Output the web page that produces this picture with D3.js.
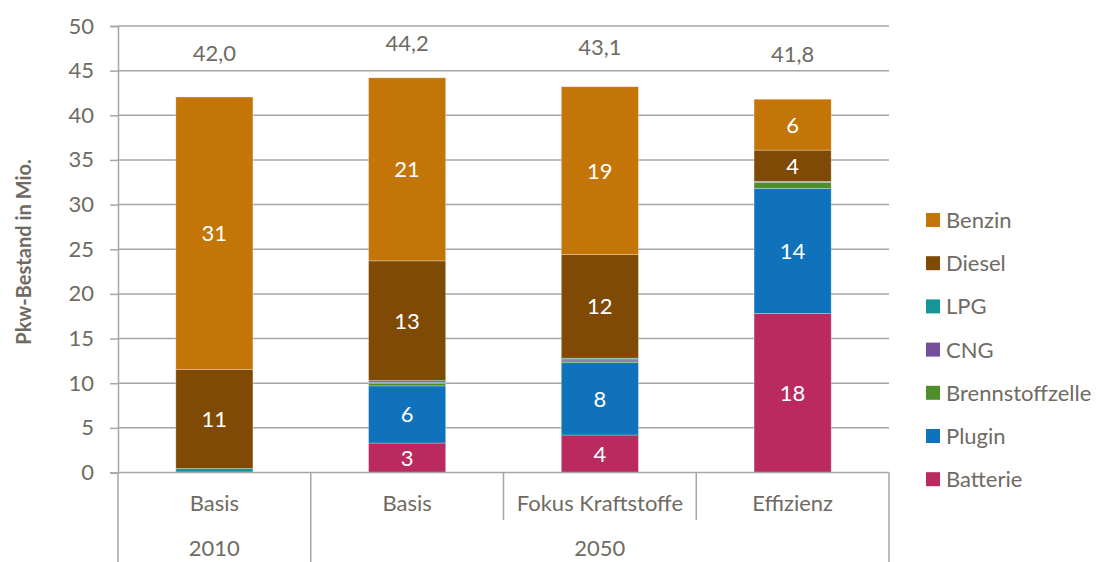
<!DOCTYPE html>
<html><head><meta charset="utf-8">
<script src="https://cdn.jsdelivr.net/npm/d3@7"></script>
<style>
html,body{margin:0;padding:0;background:#fff;}
svg text{font-family:Lato,"Open Sans",sans-serif;}
</style></head>
<body>
<svg id="chart" width="1097" height="562"></svg>
<script>
// ---- data ----
const categories = ["Basis", "Basis", "Fokus Kraftstoffe", "Effizienz"];
const groups = ["2010", "2050", "2050", "2050"];
const seriesNames = ["Batterie", "Plugin", "Brennstoffzelle", "CNG", "LPG", "Diesel", "Benzin"];
const batterie = [0, 3.3, 4.2, 17.8];
const plugin = [0, 6.4, 8.1, 14.0];
const brennstoffzelle = [0, 0.3, 0.2, 0.7];
const cng = [0.05, 0.1, 0.2, 0.05];
const lpg = [0.4, 0.2, 0.1, 0.05];
const diesel = [11.1, 13.4, 11.6, 3.5];
const benzin = [30.5, 20.5, 18.8, 5.7];
const totals = [42.0, 44.2, 43.1, 41.8];
const yTicks = [0, 5, 10, 15, 20, 25, 30, 35, 40, 45, 50];
const colors = ["#BA2A5F", "#1072BA", "#4E8E2B", "#744E9A", "#13969A", "#7F4A06", "#C47508"];
// label heights for the totals (in axis units)
const totalLabelPos = [47.0, 48.1, 47.6, 46.9];

(function () {
const seriesValues = [batterie, plugin, brennstoffzelle, cng, lpg, diesel, benzin];
const rows = categories.map((c, i) => {
  const r = {idx: i};
  seriesNames.forEach((s, k) => r[s] = seriesValues[k][i]);
  return r;
});

const svg = d3.select("#chart");
const mLeft = 118, mRight = 889, mTop = 26, mBottom = 472.5;
const textCol = "#6F6B62", gridCol = "#A6A6A6";
const fs = "22px";

const y = d3.scaleLinear().domain([0, 50]).range([mBottom, mTop]);
const x = d3.scaleBand().domain(d3.range(categories.length)).range([mLeft, mRight])
  .paddingInner(0.6).paddingOuter(0.3);
const xOuter = d3.scaleBand().domain(d3.range(categories.length)).range([mLeft, mRight]);

// gridlines
svg.append("g").selectAll("line").data(yTicks.filter(t => t > 0)).join("line")
  .attr("x1", mLeft).attr("x2", mRight)
  .attr("y1", d => y(d)).attr("y2", d => y(d))
  .attr("stroke", gridCol).attr("stroke-width", 1.5);

// y axis
const yAxis = svg.append("g").attr("transform", `translate(${mLeft},0)`)
  .call(d3.axisLeft(y).tickValues(yTicks).tickSize(8).tickPadding(16));
yAxis.select(".domain").attr("stroke", gridCol).attr("stroke-width", 1.5);
yAxis.selectAll(".tick line").attr("stroke", gridCol).attr("stroke-width", 1.5);
yAxis.selectAll(".tick text").attr("fill", textCol).style("font-size", fs)
  .style("font-family", "Lato, 'Open Sans', sans-serif");

// axis title
svg.append("text")
  .attr("transform", `translate(31,${252}) rotate(-90)`)
  .attr("text-anchor", "middle")
  .attr("fill", textCol).style("font-size", "20px").style("font-weight", "bold")
  .text("Pkw-Bestand in Mio.");

// stacked bars
const stack = d3.stack().keys(seriesNames)(rows);
const layers = svg.append("g").selectAll("g").data(stack).join("g")
  .attr("fill", (d, i) => colors[i]);
layers.selectAll("rect").data(d => d.filter(p => p[1] - p[0] > 0)).join("rect")
  .attr("x", d => x(d.data.idx))
  .attr("width", x.bandwidth())
  .attr("y", d => y(d[1]))
  .attr("height", d => y(d[0]) - y(d[1]))
  .attr("stroke", "rgba(255,255,255,0.35)").attr("stroke-width", 0.8);

// segment labels
stack.forEach(layer => {
  svg.append("g").selectAll("text").data(layer.filter(p => p[1] - p[0] >= 2)).join("text")
    .attr("x", d => x(d.data.idx) + x.bandwidth() / 2)
    .attr("y", d => y((d[0] + d[1]) / 2))
    .attr("dy", "0.36em")
    .attr("text-anchor", "middle")
    .attr("fill", "#fff").style("font-size", fs)
    .text(d => Math.round(d[1] - d[0]));
});

// totals
svg.append("g").selectAll("text").data(totals).join("text")
  .attr("x", (d, i) => x(i) + x.bandwidth() / 2)
  .attr("y", (d, i) => y(totalLabelPos[i]))
  .attr("dy", "0.36em")
  .attr("text-anchor", "middle")
  .attr("fill", textCol).style("font-size", fs)
  .text(d => d.toFixed(1).replace(".", ","));

// x axis baseline
svg.append("line").attr("x1", mLeft).attr("x2", mRight).attr("y1", mBottom).attr("y2", mBottom)
  .attr("stroke", gridCol).attr("stroke-width", 1.5);

// category separators
const boundaries = d3.range(categories.length + 1);
svg.append("g").selectAll("line").data(boundaries).join("line")
  .attr("x1", i => i < categories.length ? xOuter(i) : mRight)
  .attr("x2", i => i < categories.length ? xOuter(i) : mRight)
  .attr("y1", mBottom)
  .attr("y2", i => {
    const isGroupEdge = i === 0 || i === categories.length || groups[i] !== groups[i - 1];
    return isGroupEdge ? 562 : 520;
  })
  .attr("stroke", gridCol).attr("stroke-width", 1.5);

// category labels
svg.append("g").selectAll("text").data(categories).join("text")
  .attr("x", (d, i) => xOuter(i) + xOuter.bandwidth() / 2)
  .attr("y", 503).attr("dy", "0.36em")
  .attr("text-anchor", "middle").attr("fill", textCol).style("font-size", fs)
  .text(d => d);

// group labels
const groupList = Array.from(new Set(groups));
svg.append("g").selectAll("text").data(groupList).join("text")
  .attr("x", g => {
    const idx = groups.map((v, i) => v === g ? i : -1).filter(i => i >= 0);
    const x0 = xOuter(idx[0]), x1 = xOuter(idx[idx.length - 1]) + xOuter.bandwidth();
    return (x0 + x1) / 2;
  })
  .attr("y", 548).attr("dy", "0.36em")
  .attr("text-anchor", "middle").attr("fill", textCol).style("font-size", fs)
  .text(d => d);

// legend (reverse order)
const legendNames = seriesNames.slice().reverse();
const legendColors = colors.slice().reverse();
const lg = svg.append("g").selectAll("g").data(legendNames).join("g")
  .attr("transform", (d, i) => `translate(926,${220 + i * 43.2})`);
lg.append("rect").attr("x", 0).attr("y", -7).attr("width", 14).attr("height", 14)
  .attr("fill", (d, i) => legendColors[i]);
lg.append("text").attr("x", 20).attr("y", 0).attr("dy", "0.36em")
  .attr("fill", textCol).style("font-size", fs).text(d => d);
})();
</script>
</body></html>
